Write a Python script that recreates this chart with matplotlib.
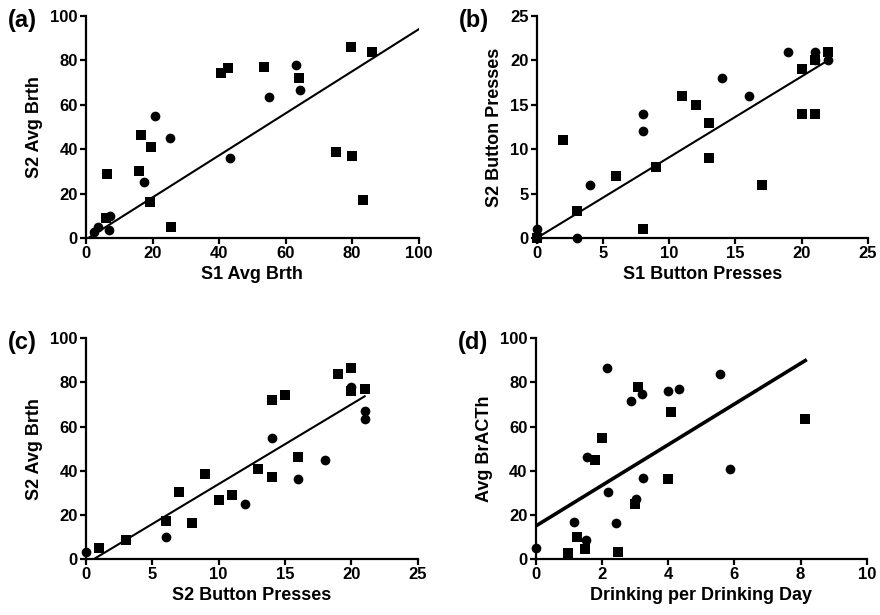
import matplotlib
matplotlib.use("Agg")
import matplotlib.pyplot as plt

plt.rcParams['font.family'] = ['Liberation Sans', 'DejaVu Sans']
plt.rcParams['font.weight'] = 'bold'

# (a) S1 vs S2 average breath alcohol
a_sq_x = [40.5, 42.7, 53.5, 64.1, 79.7, 85.9, 16.5, 19.5, 16.0, 6.2, 19.1, 25.5, 75.2, 79.9, 83.4, 6.0]
a_sq_y = [74.5, 76.6, 77.0, 72.0, 86.2, 83.6, 46.5, 40.8, 30.3, 29.0, 16.2, 5.0, 38.7, 37.1, 17.1, 8.9]
a_ci_x = [63.2, 64.4, 54.9, 20.8, 25.4, 43.3, 17.3, 7.1, 7.0, 3.5, 2.4]
a_ci_y = [77.8, 66.7, 63.4, 55.1, 45.0, 36.2, 25.1, 10.1, 3.5, 5.1, 2.7]
a_fit_x = [0.7, 100]
a_fit_y = [0.0, 94.0]

# (b) S1 vs S2 button presses
b_sq_x = [2, 3, 6, 8, 9, 11, 12, 13, 13, 17, 20, 21, 20, 21, 22, 0]
b_sq_y = [11, 3, 7, 1, 8, 16, 15, 13, 9, 6, 14, 14, 19, 20, 21, 0]
b_ci_x = [0, 0, 3, 4, 8, 8, 14, 16, 19, 21, 22, 21]
b_ci_y = [1, 0, 0, 6, 14, 12, 18, 16, 21, 21, 20, 20]
b_fit_x = [0, 22]
b_fit_y = [0, 20]

# (c) S2 button presses vs S2 average breath alcohol
c_sq_x = [1, 3, 6, 7, 8, 9, 10, 11, 13, 14, 14, 15, 16, 19, 20, 20, 21]
c_sq_y = [4.8, 8.4, 17.1, 30.2, 16.2, 38.5, 26.6, 29.0, 40.8, 37.1, 71.9, 74.4, 46.3, 83.9, 86.3, 76.2, 77.0]
c_ci_x = [0, 6, 12, 14, 16, 18, 20, 21, 21]
c_ci_y = [3.3, 9.9, 25.1, 55.0, 36.1, 45.0, 77.7, 66.9, 63.2]
c_fit_x = [0.6, 21]
c_fit_y = [0.0, 73.7]

# (d) drinks per drinking day vs average BrAC
d_ci_x = [0.0, 1.14, 1.5, 1.55, 2.14, 2.17, 2.42, 2.86, 3.02, 3.21, 3.25, 4.0, 4.32, 5.56, 5.86]
d_ci_y = [4.8, 17.0, 8.4, 46.3, 86.3, 30.2, 16.1, 71.7, 27.1, 74.6, 36.8, 76.2, 76.8, 83.8, 40.8]
d_sq_x = [0.98, 1.24, 1.49, 1.79, 1.99, 2.49, 2.99, 3.07, 4.0, 4.08, 8.12]
d_sq_y = [2.7, 9.9, 4.5, 44.8, 55.0, 3.3, 25.1, 77.7, 36.2, 66.8, 63.2]
d_fit_x = [0.0, 8.14]
d_fit_y = [15.0, 89.9]

panels = [
    dict(tag='(a)', sx=a_sq_x, sy=a_sq_y, cx=a_ci_x, cy=a_ci_y, fx=a_fit_x, fy=a_fit_y, lw=1.5,
         xlim=100, xstep=20, ylim=100, ystep=20, xlabel='S1 Avg Brth', ylabel='S2 Avg Brth',
         pos=[0.0977, 0.613, 0.378, 0.361]),
    dict(tag='(b)', sx=b_sq_x, sy=b_sq_y, cx=b_ci_x, cy=b_ci_y, fx=b_fit_x, fy=b_fit_y, lw=1.5,
         xlim=25, xstep=5, ylim=25, ystep=5, xlabel='S1 Button Presses', ylabel='S2 Button Presses',
         pos=[0.610, 0.613, 0.376, 0.361]),
    dict(tag='(c)', sx=c_sq_x, sy=c_sq_y, cx=c_ci_x, cy=c_ci_y, fx=c_fit_x, fy=c_fit_y, lw=1.5,
         xlim=25, xstep=5, ylim=100, ystep=20, xlabel='S2 Button Presses', ylabel='S2 Avg Brth',
         pos=[0.0977, 0.091, 0.377, 0.359]),
    dict(tag='(d)', sx=d_sq_x, sy=d_sq_y, cx=d_ci_x, cy=d_ci_y, fx=d_fit_x, fy=d_fit_y, lw=2.6,
         xlim=10, xstep=2, ylim=100, ystep=20, xlabel='Drinking per Drinking Day', ylabel='Avg BrACTh',
         pos=[0.609, 0.091, 0.376, 0.359]),
]

fig = plt.figure(figsize=(8.8, 6.15), dpi=100)

for p in panels:
    ax = fig.add_axes(p['pos'])
    ax.plot(p['fx'], p['fy'], color='black', lw=p['lw'], zorder=2)
    ax.plot(p['sx'], p['sy'], 's', color='black', ms=7.2, mew=0, zorder=3, clip_on=False)
    ax.plot(p['cx'], p['cy'], 'o', color='black', ms=7.0, mew=0, zorder=3, clip_on=False)

    ax.set_xlim(0, p['xlim'])
    ax.set_ylim(0, p['ylim'])
    ax.set_xticks(range(0, p['xlim'] + 1, p['xstep']))
    ax.set_yticks(range(0, p['ylim'] + 1, p['ystep']))
    for side in ['top', 'right']:
        ax.spines[side].set_visible(False)
    for side in ['left', 'bottom']:
        ax.spines[side].set_linewidth(1.6)
    ax.tick_params(direction='out', length=4, width=1.6, labelsize=12, pad=2)
    for lab in ax.get_xticklabels() + ax.get_yticklabels():
        lab.set_fontweight('bold')
    ax.set_xlabel(p['xlabel'], fontsize=13, fontweight='bold', labelpad=3)
    ax.set_ylabel(p['ylabel'], fontsize=13, fontweight='bold', labelpad=5)
    ax.text(-0.235, 0.98, p['tag'], transform=ax.transAxes, fontsize=17,
            fontweight='bold', ha='left', va='center')

fig.savefig('out.png', dpi=100)
